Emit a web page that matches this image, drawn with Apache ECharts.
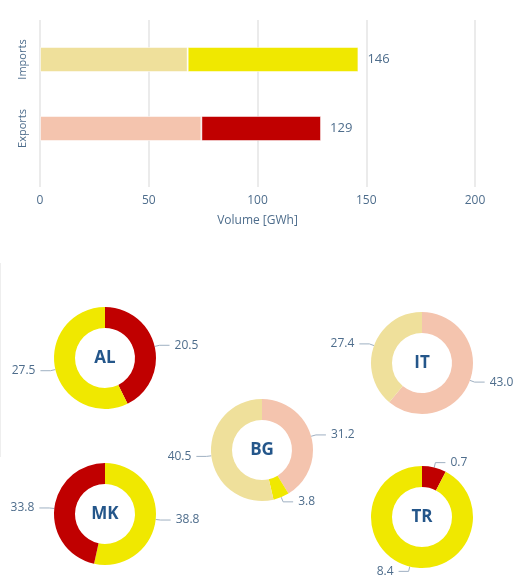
<!DOCTYPE html>
<html>
<head>
    <meta charset="utf-8">
    <title>Imports / Exports</title>
    <script src="https://cdn.jsdelivr.net/npm/echarts@6/dist/echarts.min.js"></script>
    <style>
        html, body { margin: 0; padding: 0; background: #fff; }
    </style>
</head>
<body>
    <div id="main" style="width: 513px;height:581px;"></div>
<script type="text/javascript">

    // bar chart data
    var categories = ['Imports', 'Exports'];
    var importsLight = [67.9, null];   // BG + IT
    var importsMain = [78.5, null];    // AL + MK + BG + TR
    var exportsLight = [null, 74.2];   // BG + IT
    var exportsMain = [null, 55.0];    // AL + MK + TR
    var totals = [146, 129];
    var xTicks = [0, 50, 100, 150, 200];

    // donut data, per country
    var countries = ['AL', 'IT', 'BG', 'MK', 'TR'];
    var countryValues = [
        [20.5, 27.5],
        [43.0, 27.4],
        [31.2, 3.8, 40.5],
        [38.8, 33.8],
        [0.7, 8.4]
    ];
    var countryKinds = [
        ['exp', 'imp'],
        ['expL', 'impL'],
        ['expL', 'imp', 'impL'],
        ['imp', 'exp'],
        ['exp', 'imp']
    ];

    var colors = {
        imp: '#f0e800',
        impL: '#efe09b',
        exp: '#c00000',
        expL: '#f4c4ae'
    };
    var textColor = '#4e6d8c';
    var fontFamily = '"Open Sans", sans-serif';

    // donut layout (pixels)
    var centers = [[105, 358], [422, 363], [262, 450], [105, 514], [422, 517]];

    var myChart = echarts.init(document.getElementById('main'));

    var barStyle = function (c) {
        return { color: c, borderColor: 'rgba(255,255,255,0.5)', borderWidth: 1 };
    };

    var series = [
        { type: 'bar', stack: 'v', xAxisIndex: 1, yAxisIndex: 1, barWidth: 25, data: importsLight, itemStyle: barStyle(colors.impL) },
        { type: 'bar', stack: 'v', xAxisIndex: 1, yAxisIndex: 1, barWidth: 25, data: importsMain, itemStyle: barStyle(colors.imp) },
        { type: 'bar', stack: 'v', xAxisIndex: 1, yAxisIndex: 1, barWidth: 25, data: exportsLight, itemStyle: barStyle(colors.expL) },
        {
            type: 'bar', stack: 'v', xAxisIndex: 1, yAxisIndex: 1, barWidth: 25,
            data: exportsMain, itemStyle: barStyle(colors.exp)
        },
        // invisible series carrying the total labels
        {
            type: 'bar', stack: 'v', xAxisIndex: 1, yAxisIndex: 1, barWidth: 25,
            data: totals.map(function () { return 0; }),
            itemStyle: { color: 'transparent' },
            label: {
                show: true, position: 'right', distance: 9,
                color: textColor, fontSize: 13, fontFamily: fontFamily,
                formatter: function (p) { return totals[p.dataIndex]; }
            }
        }
    ];

    var graphics = [
        { type: 'line', shape: { x1: 0.5, y1: 263, x2: 0.5, y2: 457 }, style: { stroke: '#eeeeee', lineWidth: 1 } }
    ];

    countries.forEach(function (name, i) {
        series.push({
            type: 'pie',
            center: centers[i],
            radius: [30, 51],
            startAngle: 90,
            clockwise: true,
            silent: true,
            avoidLabelOverlap: false,
            label: {
                show: true, position: 'outside', color: textColor,
                fontSize: 12, fontFamily: fontFamily,
                formatter: function (p) { return p.value.toFixed(1); }
            },
            labelLine: {
                show: true, length: 5, length2: 10, smooth: false,
                lineStyle: { color: '#9fb0c2', width: 1 }
            },
            data: countryValues[i].map(function (v, j) {
                return { value: v, itemStyle: { color: colors[countryKinds[i][j]] } };
            })
        });
        graphics.push({
            type: 'text', x: centers[i][0], y: centers[i][1],
            style: {
                text: name, fill: '#24568a', font: 'bold 17px "Open Sans", sans-serif',
                align: 'center', verticalAlign: 'middle'
            }
        });
    });

    var option = {
        backgroundColor: '#ffffff',
        animation: false,
        textStyle: { fontFamily: fontFamily },
        grid: [
            { left: 40, width: 435, top: 20, height: 167 },
            { left: 40, width: 435, top: 25, height: 138 }
        ],
        xAxis: [
            {
                gridIndex: 0, type: 'value', min: xTicks[0], max: xTicks[xTicks.length - 1], interval: 50,
                name: 'Volume [GWh]', nameLocation: 'middle', nameGap: 28,
                nameTextStyle: { color: textColor, fontSize: 12, fontFamily: fontFamily },
                axisLine: { show: false }, axisTick: { show: false },
                axisLabel: { color: textColor, fontSize: 12, margin: 8, fontFamily: fontFamily },
                splitLine: { lineStyle: { color: '#ebebeb', width: 2 } }
            },
            {
                gridIndex: 1, type: 'value', min: xTicks[0], max: xTicks[xTicks.length - 1], show: false
            }
        ],
        yAxis: [
            { gridIndex: 0, type: 'category', data: categories, show: false },
            {
                gridIndex: 1, type: 'category', data: categories, inverse: true,
                axisLine: { show: false }, axisTick: { show: false },
                axisLabel: { rotate: 90, color: textColor, fontSize: 11, margin: 12, fontFamily: fontFamily }
            }
        ],
        graphic: graphics,
        series: series
    };

    myChart.setOption(option, true);
</script>
</body>
</html>
